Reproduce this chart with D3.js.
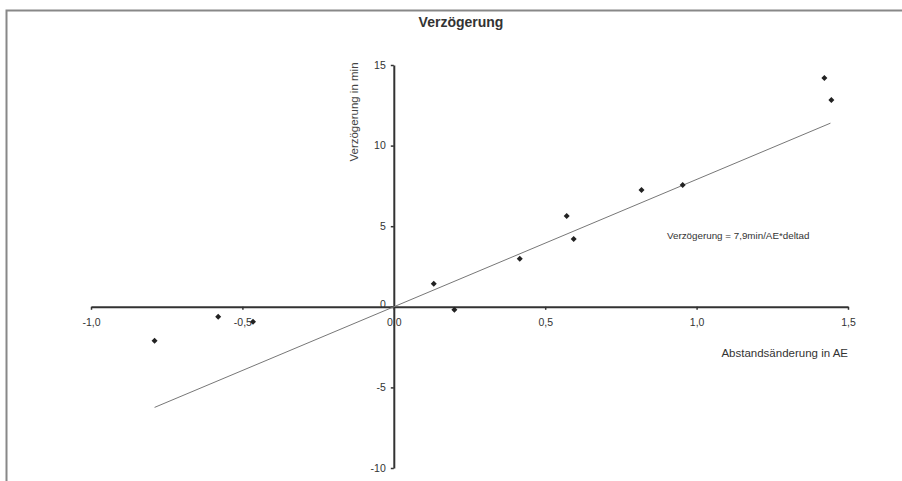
<!DOCTYPE html>
<html>
<head>
<meta charset="utf-8">
<script src="https://cdn.jsdelivr.net/npm/d3@7"></script>
<style>
  body { margin: 0; background: #fff; }
  svg { display: block; font-family: "Liberation Sans", Arial, sans-serif; }
</style>
</head>
<body>
<div id="chart"></div>
<script>
// Data
const deltaAE = [-0.79, -0.58, -0.465, 0.132, 0.2, 0.416, 0.571, 0.594, 0.818, 0.954, 1.422, 1.445];
const delayMin = [-2.1, -0.62, -0.93, 1.43, -0.19, 2.98, 5.64, 4.2, 7.25, 7.56, 14.2, 12.83];
const slope = 7.9;
const trendRange = [-0.79, 1.442];
const xTicks = [-1.0, -0.5, 0.0, 0.5, 1.0, 1.5];
const yTicks = [-10, -5, 0, 5, 10, 15];

const width = 902, height = 481;

const svg = d3.select("#chart")
  .append("svg")
  .attr("width", width)
  .attr("height", height);

// Chart frame
svg.append("path")
  .attr("d", "M6.5,481 V10.5 H902")
  .attr("fill", "none")
  .attr("stroke", "#888")
  .attr("stroke-width", 2);

// Scales
const x = d3.scaleLinear().domain([-1, 1.5]).range([91, 848]);
const y = d3.scaleLinear().domain([-10, 15]).range([468, 65]);

// German decimal comma, plain hyphen for negatives
const fmtX = d => d.toFixed(1).replace(".", ",");
const fmtY = d => String(d);

// x axis through y = 0
const xAxis = svg.append("g")
  .attr("transform", `translate(0, ${y(0)})`)
  .call(d3.axisBottom(x).tickValues(xTicks).tickFormat(fmtX).tickSize(3).tickPadding(9).tickSizeOuter(0));

// y axis through x = 0
const yAxis = svg.append("g")
  .attr("transform", `translate(${x(0)}, 0)`)
  .call(d3.axisLeft(y).tickValues(yTicks).tickFormat(fmtY).tickSize(3).tickPadding(5).tickSizeOuter(0));

[xAxis, yAxis].forEach(g => {
  g.select(".domain").attr("stroke", "#333").attr("stroke-width", 2);
  g.selectAll(".tick line").attr("stroke", "#333").attr("stroke-width", 1.5);
  g.selectAll(".tick text").attr("fill", "#333").style("font-size", "10.5px");
});
yAxis.selectAll(".tick text").filter(d => d === 0).attr("dy", "0.1em");

// Trend line
svg.append("line")
  .attr("x1", x(trendRange[0])).attr("y1", y(slope * trendRange[0]))
  .attr("x2", x(trendRange[1])).attr("y2", y(slope * trendRange[1]))
  .attr("stroke", "#777")
  .attr("stroke-width", 1);

// Points (small diamonds)
svg.selectAll("path.pt")
  .data(deltaAE.map((d, i) => ({ x: d, y: delayMin[i] })))
  .enter()
  .append("path")
  .attr("class", "pt")
  .attr("d", d3.symbol().type(d3.symbolSquare).size(18))
  .attr("transform", d => `translate(${x(d.x)}, ${y(d.y)}) rotate(45)`)
  .attr("fill", "#222");

// Title
svg.append("text")
  .attr("x", 461).attr("y", 27)
  .attr("text-anchor", "middle")
  .attr("fill", "#333")
  .style("font-size", "14px")
  .style("font-weight", "bold")
  .text("Verzögerung");

// Axis titles
svg.append("text")
  .attr("transform", `translate(358, 112) rotate(-90)`)
  .attr("text-anchor", "middle")
  .attr("fill", "#444")
  .style("font-size", "11.5px")
  .text("Verzögerung in min");

svg.append("text")
  .attr("x", 848).attr("y", 357)
  .attr("text-anchor", "end")
  .attr("fill", "#333")
  .style("font-size", "11.5px")
  .text("Abstandsänderung in AE");

// Equation annotation
svg.append("text")
  .attr("x", 667).attr("y", 239)
  .attr("fill", "#333")
  .style("font-size", "9.8px")
  .text("Verzögerung = 7,9min/AE*deltad");
</script>
</body>
</html>
